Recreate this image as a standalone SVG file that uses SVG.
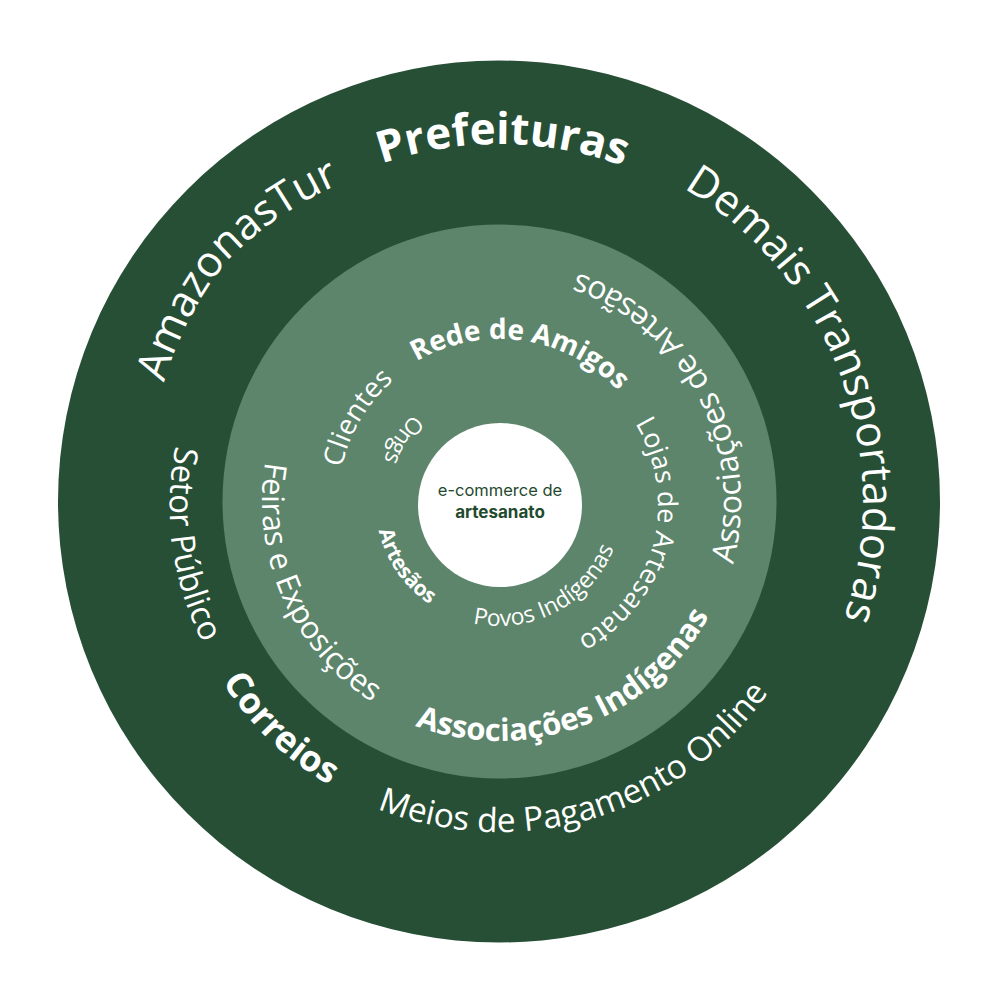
<svg xmlns="http://www.w3.org/2000/svg" xmlns:xlink="http://www.w3.org/1999/xlink" width="1000" height="1000" viewBox="0 0 1000 1000">
<style>
.t{fill:#ffffff;font-family:"Open Sans","Noto Sans","DejaVu Sans",sans-serif;font-weight:400}
.b{font-weight:700}
.c{fill:#1f4a2e;font-family:Inter,Roboto,"Liberation Sans",sans-serif;text-anchor:middle}
</style>
<defs>
<path id="p-pref" d="M495.3,860 A358,358 0 0 1 502.7,144 A358,358 0 0 1 495.3,860"/>
<path id="p-amaz" d="M771,743 A364,364 0 0 1 227,261 A364,364 0 0 1 771,743"/>
<path id="p-dema" d="M157.9,629.2 A364,364 0 0 1 840.1,374.8 A364,364 0 0 1 157.9,629.2"/>
<path id="p-seto" d="M825.9,457.2 A330,330 0 0 0 172.1,546.8 A330,330 0 0 0 825.9,457.2"/>
<path id="p-corr" d="M728.9,263.9 A331,331 0 0 0 269.1,740.1 A331,331 0 0 0 728.9,263.9"/>
<path id="p-meio" d="M405,185.6 A330,330 0 0 0 593,818.4 A330,330 0 0 0 405,185.6"/>
<path id="p-rede" d="M475.5,663.3 A163,163 0 0 1 522.5,340.7 A163,163 0 0 1 475.5,663.3"/>
<path id="p-asar" d="M285.5,616 A242,242 0 0 0 712.5,388 A242,242 0 0 0 285.5,616"/>
<path id="p-loja" d="M344.5,460.6 A160,160 0 0 1 653.5,543.4 A160,160 0 0 1 344.5,460.6"/>
<path id="p-clie" d="M637.4,584.3 A161,161 0 0 1 360.6,419.7 A161,161 0 0 1 637.4,584.3"/>
<path id="p-feir" d="M715.6,405.8 A237,237 0 0 0 282.4,598.2 A237,237 0 0 0 715.6,405.8"/>
<path id="p-asin" d="M415.3,278.1 A239,239 0 0 0 582.7,725.9 A239,239 0 0 0 415.3,278.1"/>
<path id="p-ongs" d="M602.3,568.7 A123,123 0 0 0 395.7,435.3 A123,123 0 0 0 602.3,568.7"/>
<path id="p-arte" d="M601,431.5 A124,124 0 0 0 397,572.5 A124,124 0 0 0 601,431.5"/>
<path id="p-povo" d="M440.9,392.4 A124,124 0 0 0 557.1,611.6 A124,124 0 0 0 440.9,392.4"/>
</defs>
<g id="outer-ring">
<circle cx="499" cy="501.5" r="441" fill="#274f35"/>
</g>
<g id="middle-ring">
<circle cx="499.5" cy="501.5" r="277" fill="#5c856b"/>
</g>
<g id="center">
<circle cx="500" cy="505" r="82" fill="#ffffff"/>
<text class="c" x="500" y="496" font-size="16.5">e-commerce de</text>
<text class="c" x="500" y="518" font-size="17" font-weight="700">artesanato</text>
</g>
<g id="outer-labels">
<text class="t b" font-size="44"><textPath xlink:href="#p-pref" href="#p-pref" startOffset="50%" text-anchor="middle">Prefeituras</textPath></text>
<text class="t" font-size="43"><textPath xlink:href="#p-amaz" href="#p-amaz" startOffset="50%" text-anchor="middle">AmazonasTur</textPath></text>
<text class="t" font-size="43"><textPath xlink:href="#p-dema" href="#p-dema" startOffset="50%" text-anchor="middle">Demais Transportadoras</textPath></text>
<text class="t" font-size="33"><textPath xlink:href="#p-seto" href="#p-seto" startOffset="50%" text-anchor="middle">Setor Público</textPath></text>
<text class="t b" font-size="36"><textPath xlink:href="#p-corr" href="#p-corr" startOffset="50%" text-anchor="middle">Correios</textPath></text>
<text class="t" font-size="33.5"><textPath xlink:href="#p-meio" href="#p-meio" startOffset="50%" text-anchor="middle">Meios de Pagamento Online</textPath></text>
</g>
<g id="middle-labels">
<text class="t b" font-size="28"><textPath xlink:href="#p-rede" href="#p-rede" startOffset="50%" text-anchor="middle">Rede de Amigos</textPath></text>
<text class="t" font-size="32"><textPath xlink:href="#p-asar" href="#p-asar" startOffset="50%" text-anchor="middle">Associações de Artesãos</textPath></text>
<text class="t" font-size="27"><textPath xlink:href="#p-loja" href="#p-loja" startOffset="50%" text-anchor="middle">Lojas de Artesanato</textPath></text>
<text class="t" font-size="28"><textPath xlink:href="#p-clie" href="#p-clie" startOffset="50%" text-anchor="middle">Clientes</textPath></text>
<text class="t" font-size="31"><textPath xlink:href="#p-feir" href="#p-feir" startOffset="50%" text-anchor="middle">Feiras e Exposições</textPath></text>
<text class="t b" font-size="31"><textPath xlink:href="#p-asin" href="#p-asin" startOffset="50%" text-anchor="middle">Associações Indígenas</textPath></text>
</g>
<g id="inner-labels">
<text class="t" font-size="23"><textPath xlink:href="#p-ongs" href="#p-ongs" startOffset="50%" text-anchor="middle">Ongs</textPath></text>
<text class="t b" font-size="21"><textPath xlink:href="#p-arte" href="#p-arte" startOffset="50%" text-anchor="middle">Artesãos</textPath></text>
<text class="t" font-size="23"><textPath xlink:href="#p-povo" href="#p-povo" startOffset="50%" text-anchor="middle">Povos Indígenas</textPath></text>
</g>
</svg>
